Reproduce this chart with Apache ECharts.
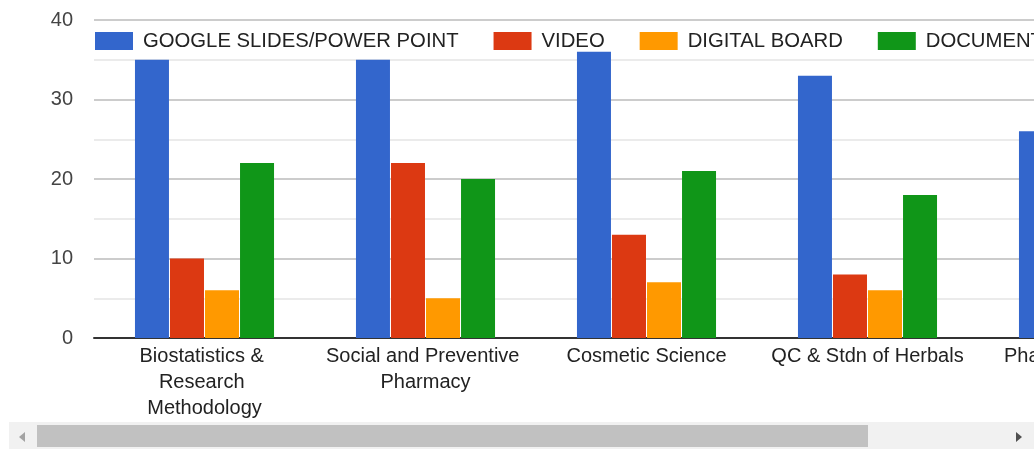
<!DOCTYPE html>
<html><head><meta charset="utf-8">
<script src="https://cdn.jsdelivr.net/npm/echarts@6/dist/echarts.min.js"></script>
<style>html,body{margin:0;padding:0;background:#fff;overflow:hidden;width:1034px;height:449px}#c{width:1240px;height:449px}</style>
</head><body><div id="c"></div>
<script>
const categories = ["Biostatistics & Research Methodology", "Social and Preventive Pharmacy", "Cosmetic Science", "QC & Stdn of Herbals", "Pharmacovigilance"];
const seriesNames = ["GOOGLE SLIDES/POWER POINT", "VIDEO", "DIGITAL BOARD", "DOCUMENT"];
const slidesValues = [35, 35, 36, 33, 26];
const videoValues = [10, 22, 13, 8, 12];
const boardValues = [6, 5, 7, 6, 6];
const documentValues = [22, 20, 21, 18, 17];
const yTicks = [0, 10, 20, 30, 40];

const colors = ["#3366cc", "#dc3912", "#ff9900", "#109618"];
const allValues = [slidesValues, videoValues, boardValues, documentValues];
const FONT = "'Liberation Sans', Arial, sans-serif";

const chart = echarts.init(document.getElementById('c'), null, {renderer: 'canvas'});
chart.setOption({
  animation: false,
  color: colors,
  textStyle: {fontFamily: FONT},
  legend: {
    left: 90, top: 26, width: 1200,
    itemWidth: 38, itemHeight: 18, itemGap: 35,
    icon: 'rect',
    textStyle: {fontSize: 20.3, color: '#222', fontFamily: FONT, padding: [0, 0, 0, 5]},
    data: seriesNames
  },
  grid: {left: 94, top: 20, width: 1105, height: 318},
  xAxis: {
    type: 'category', data: categories,
    axisTick: {show: false},
    axisLine: {lineStyle: {color: '#333', width: 2}},
    axisLabel: {interval: 0, margin: 5, fontSize: 20, color: '#222', fontFamily: FONT,
      lineHeight: 26, width: 200, overflow: 'break'}
  },
  yAxis: {
    type: 'value', min: yTicks[0], max: yTicks[yTicks.length - 1], interval: 10,
    axisLine: {show: false}, axisTick: {show: false},
    axisLabel: {margin: 21, fontSize: 20, color: '#444', fontFamily: FONT},
    splitLine: {lineStyle: {color: '#cccccc', width: 2}},
    minorTick: {show: false, splitNumber: 2},
    minorSplitLine: {show: true, lineStyle: {color: '#ebebeb', width: 2}}
  },
  series: seriesNames.map((n, i) => ({
    name: n, type: 'bar', data: allValues[i],
    barWidth: 34, barGap: '3%', z: 2
  })),
  graphic: [
    {type: 'rect', shape: {x: 9, y: 422, width: 1025, height: 27}, style: {fill: '#f1f1f1'}, z: 100},
    {type: 'rect', shape: {x: 37, y: 425, width: 831, height: 22}, style: {fill: '#c1c1c1'}, z: 101},
    {type: 'polygon', shape: {points: [[19, 437], [25, 432], [25, 442]]}, style: {fill: '#a3a3a3'}, z: 101},
    {type: 'polygon', shape: {points: [[1016, 432], [1022, 437], [1016, 442]]}, style: {fill: '#505050'}, z: 101}
  ]
});
</script></body></html>
